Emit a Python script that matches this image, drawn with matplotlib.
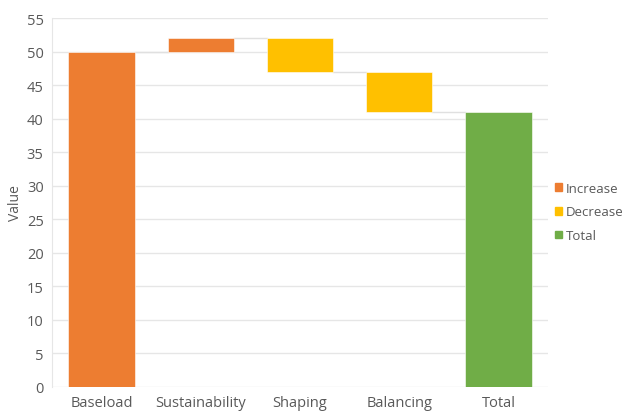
import matplotlib as mpl
import matplotlib.pyplot as plt
from matplotlib.patches import Patch
import numpy as np

mpl.rcParams['font.family'] = ['Open Sans', 'DejaVu Sans']

categories = ['Baseload', 'Sustainability', 'Shaping', 'Balancing', 'Total']
changes    = [50, 2, -5, -6]     # steps of the waterfall
total      = 41
yticks     = list(range(0, 56, 5))

c_inc, c_dec, c_tot = '#ED7D31', '#FFC000', '#70AD47'
txt = '#595959'

# build bottoms/heights from the steps
bottoms, heights, colors = [], [], []
level = 0
for ch in changes:
    if ch >= 0:
        bottoms.append(level)
        colors.append(c_inc)
    else:
        bottoms.append(level + ch)
        colors.append(c_dec)
    heights.append(abs(ch))
    level += ch
bottoms.append(0)
heights.append(total)
colors.append(c_tot)

fig = plt.figure(figsize=(6.28, 4.14), dpi=100)
ax = fig.add_axes([52/628, 1 - 388/414, 496/628, 369/414])

x = np.arange(len(categories))
ax.set_axisbelow(True)
ax.yaxis.grid(True, color='#E6E6E6', lw=1)

# connector lines between bars
ends = []
level = 0
for ch in changes:
    level += ch
    ends.append(level)
for i, e in enumerate(ends):
    ax.plot([x[i] + 0.335, x[i + 1] - 0.335], [e, e], color='#E0E0E0', lw=1, zorder=1)

ax.bar(x, heights, bottom=bottoms, width=0.67, color=colors, zorder=2,
       edgecolor='white', linewidth=0.4)

ax.set_xlim(-0.5, len(categories) - 0.5)
ax.set_ylim(0, 55)
ax.set_yticks(yticks)
ax.set_xticks(x)
ax.set_xticklabels(categories)
ax.tick_params(axis='both', length=0, colors=txt, labelsize=10.5)
ax.tick_params(axis='x', pad=6)
ax.tick_params(axis='y', pad=6)
for s in ['top', 'right', 'bottom']:
    ax.spines[s].set_visible(False)
ax.spines['left'].set_color('#E6E6E6')
ax.set_ylabel('Value', color=txt, fontsize=10)
ax.yaxis.set_label_coords((23 - 52) / 496, 0.5)

handles = [Patch(color=c_inc, label='Increase'),
           Patch(color=c_dec, label='Decrease'),
           Patch(color=c_tot, label='Total')]
leg = fig.legend(handles=handles, loc='center left', bbox_to_anchor=(555/628, 1 - 213/414),
                 frameon=False, fontsize=9.5, handlelength=0.5, handleheight=0.5,
                 handletextpad=0.35, labelspacing=0.8, borderaxespad=0, borderpad=0)
for t in leg.get_texts():
    t.set_color(txt)

fig.savefig('out.png', dpi=100)
